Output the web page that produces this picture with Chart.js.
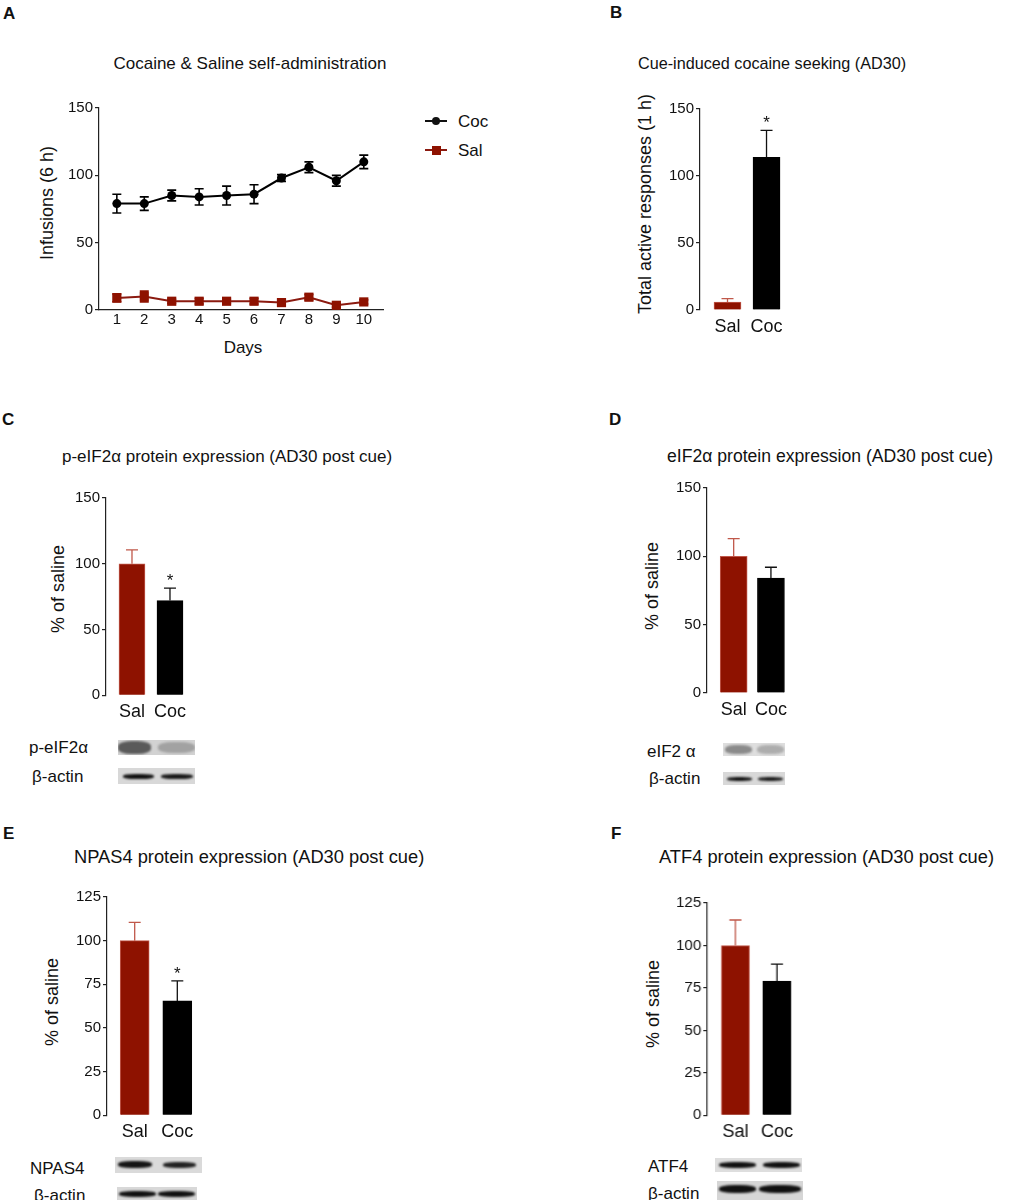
<!DOCTYPE html>
<html lang="en">
<head>
<meta charset="UTF-8">
<title>Cocaine self-administration and protein expression</title>
<script src="https://cdn.jsdelivr.net/npm/chart.js"></script>
<style>
  body { margin: 0; background: #fff; }
  #fig { position: relative; width: 1009px; height: 1200px; overflow: hidden;
         font-family: "Liberation Sans", Arial, sans-serif; color: #111; }
  .t { position: absolute; line-height: 1; white-space: nowrap; transform: translateY(-50%); }
  .tc { transform: translate(-50%, -50%); }
  .yt { transform: translate(-50%, -50%) rotate(-90deg); font-size: 18px; }
  .letter { font-weight: bold; font-size: 17px; }
  .ttl { font-size: 17px; }
  .bl { font-size: 17px; }
  .panel { position: absolute; }
  .blot { position: absolute; background: #dcdcdc; overflow: hidden; }
  .band { position: absolute; filter: blur(1px); border-radius: 40%; }
  .mark { position: absolute; }
</style>
</head>
<body>
<div id="fig">
  <!-- A -->
  <div class="t letter" style="left:3px;top:13px">A</div>
  <div class="t tc ttl" style="left:250px;top:63px">Cocaine &amp; Saline self-administration</div>
  <div class="t yt" style="left:47px;top:203px">Infusions (6 h)</div>
  <div class="t tc" style="left:243px;top:347px;font-size:17px">Days</div>
  <div class="panel" id="boxA"><canvas id="chartA"></canvas></div>
  <div class="mark" style="left:425px;top:120px;width:22px;height:2px;background:#111"></div>
  <div class="mark" style="left:432px;top:117px;width:8px;height:8px;border-radius:50%;background:#111"></div>
  <div class="t" style="left:458px;top:121px;font-size:17px">Coc</div>
  <div class="mark" style="left:425px;top:149px;width:22px;height:2px;background:#8b1a10"></div>
  <div class="mark" style="left:431.5px;top:145.5px;width:9px;height:9px;background:#8e1200"></div>
  <div class="t" style="left:458px;top:150px;font-size:17px">Sal</div>

  <!-- B -->
  <div class="t letter" style="left:610px;top:12px">B</div>
  <div class="t" style="left:638px;top:63px;font-size:16.2px">Cue-induced cocaine seeking (AD30)</div>
  <div class="t yt" style="left:645px;top:204px">Total active responses (1 h)</div>
  <div class="panel" id="boxB"><canvas id="chartB"></canvas></div>

  <!-- C -->
  <div class="t letter" style="left:2px;top:419px">C</div>
  <div class="t ttl" style="left:62px;top:456px">p-eIF2α protein expression (AD30 post cue)</div>
  <div class="t yt" style="left:58px;top:589px">% of saline</div>
  <div class="panel" id="boxC"><canvas id="chartC"></canvas></div>
  <div class="t bl" style="left:29px;top:747px">p-eIF2α</div>
  <div class="t bl" style="left:32px;top:776px">β-actin</div>

  <!-- D -->
  <div class="t letter" style="left:609px;top:419px">D</div>
  <div class="t ttl" style="left:667px;top:457px;font-size:17.6px">eIF2α protein expression (AD30 post cue)</div>
  <div class="t yt" style="left:652px;top:586px">% of saline</div>
  <div class="panel" id="boxD"><canvas id="chartD"></canvas></div>
  <div class="t bl" style="left:647px;top:751px">eIF2 α</div>
  <div class="t bl" style="left:649px;top:778px">β-actin</div>

  <!-- E -->
  <div class="t letter" style="left:3px;top:833px">E</div>
  <div class="t ttl" style="left:74px;top:857px;font-size:18.3px">NPAS4 protein expression (AD30 post cue)</div>
  <div class="t yt" style="left:52px;top:1002px">% of saline</div>
  <div class="panel" id="boxE"><canvas id="chartE"></canvas></div>
  <div class="t bl" style="left:30px;top:1168px">NPAS4</div>
  <div class="t bl" style="left:34px;top:1195px">β-actin</div>

  <!-- F -->
  <div class="t letter" style="left:611px;top:833px">F</div>
  <div class="t ttl" style="left:659px;top:857px;font-size:18.3px">ATF4 protein expression (AD30 post cue)</div>
  <div class="t yt" style="left:653px;top:1004px">% of saline</div>
  <div class="panel" id="boxF"><canvas id="chartF"></canvas></div>
  <div class="t bl" style="left:648px;top:1166px">ATF4</div>
  <div class="t bl" style="left:648px;top:1193px">β-actin</div>
</div>

<script>
// ---- data ----
const days = [1, 2, 3, 4, 5, 6, 7, 8, 9, 10];
const cocInfusions    = [79, 79, 85, 84, 85, 86, 98, 106, 96, 110];
const cocInfusionsErr = [7, 5, 4, 6, 7, 7, 2.5, 4, 4, 5];
const salInfusions    = [9, 10, 6.5, 6.5, 6.5, 6.5, 5.5, 9.5, 3.5, 6];
const salInfusionsErr = [3, 4, 1.5, 2, 1.5, 2, 1.5, 2, 1.5, 1.5];

const groups = ['Sal', 'Coc'];
const seekingMean = [6, 114];
const seekingErr  = [2.5, 20];
const seekingSig  = [false, true];

const peif2Mean = [100, 72];
const peif2Err  = [10.5, 9.5];
const peif2Sig  = [false, true];

const eif2Mean = [100, 84];
const eif2Err  = [13, 8];
const eif2Sig  = [false, false];

const npas4Mean = [100, 65.5];
const npas4Err  = [10.5, 11.5];
const npas4Sig  = [false, true];

const atf4Mean = [100, 79];
const atf4Err  = [15, 10];
const atf4Sig  = [false, false];

// ---- styles ----
const SAL_FILL = '#8e1200';
const SAL_EDGE = '#c0584a';
const SAL_ERR = '#c0584a';
const SAL_LINE = '#8b1a10';
const COC = '#000';
const AXIS = '#222';

Chart.defaults.font.family = '"Liberation Sans", Arial, sans-serif';
Chart.defaults.color = '#111';
Chart.defaults.animation = false;
Chart.defaults.events = [];
Chart.defaults.plugins.legend.display = false;
Chart.defaults.plugins.tooltip.enabled = false;

// chart-area placement: each canvas box is sized so the plot area lands where it sits in the figure
const AXIS_W = 44, AXIS_H = 34, PAD_T = 14, PAD_R = 8;
function place(boxId, a) {
  const s = document.getElementById(boxId).style;
  s.left = (a.l - AXIS_W) + 'px';
  s.top = (a.t - PAD_T) + 'px';
  s.width = (a.r + PAD_R - a.l + AXIS_W) + 'px';
  s.height = (a.b + AXIS_H - a.t + PAD_T) + 'px';
}

// error bars (and significance stars) drawn through the y scale
const errorBars = {
  id: 'errorBars',
  afterDatasetsDraw(chart) {
    const ctx = chart.ctx;
    const yScale = chart.scales.y;
    chart.data.datasets.forEach((ds, di) => {
      if (!ds.errors) return;
      chart.getDatasetMeta(di).data.forEach((el, i) => {
        const v = ds.data[i].y, e = ds.errors[i];
        const x = el.x;
        const yTop = yScale.getPixelForValue(v + e);
        const yBot = yScale.getPixelForValue(ds.errUpOnly ? v : v - e);
        const c = ds.capHalf;
        ctx.save();
        ctx.strokeStyle = Array.isArray(ds.errColor) ? ds.errColor[i] : ds.errColor;
        ctx.lineWidth = ds.errWidth || 1.3;
        ctx.beginPath();
        ctx.moveTo(x, yBot); ctx.lineTo(x, yTop);
        ctx.moveTo(x - c, yTop); ctx.lineTo(x + c, yTop);
        if (!ds.errUpOnly) { ctx.moveTo(x - c, yBot); ctx.lineTo(x + c, yBot); }
        ctx.stroke();
        if (ds.sig && ds.sig[i]) {
          ctx.fillStyle = '#111';
          ctx.font = '17px "Liberation Sans", Arial, sans-serif';
          ctx.textAlign = 'center';
          ctx.textBaseline = 'alphabetic';
          ctx.fillText('*', x, yTop - 2);
        }
        ctx.restore();
      });
    });
  }
};

function yAxis(max, step) {
  return {
    min: 0, max: max,
    ticks: { stepSize: step, font: { size: 15 }, color: '#111', padding: 2, autoSkip: false },
    grid: { display: true, drawOnChartArea: false, drawTicks: true, tickLength: 4, color: AXIS, lineWidth: 1.2 },
    border: { display: true, color: AXIS, width: 1.2 },
    afterFit: s => { s.width = AXIS_W; }
  };
}

// ---- A: line chart ----
place('boxA', { l: 99, t: 108, r: 383, b: 310 });
new Chart(document.getElementById('chartA'), {
  type: 'line',
  data: {
    datasets: [
      {
        label: 'Coc',
        data: days.map((d, i) => ({ x: d, y: cocInfusions[i] })),
        borderColor: COC, borderWidth: 2, tension: 0,
        pointStyle: 'circle', pointRadius: 4.5, pointBackgroundColor: COC, pointBorderWidth: 0,
        errors: cocInfusionsErr, errColor: COC, capHalf: 4.5, errWidth: 1.6
      },
      {
        label: 'Sal',
        data: days.map((d, i) => ({ x: d, y: salInfusions[i] })),
        borderColor: SAL_LINE, borderWidth: 2, tension: 0,
        pointStyle: 'rect', pointRadius: 6.5, pointBackgroundColor: SAL_FILL, pointBorderWidth: 0,
        errors: salInfusionsErr, errColor: SAL_FILL, capHalf: 4.5, errWidth: 1.6
      }
    ]
  },
  options: {
    responsive: true, maintainAspectRatio: false,
    layout: { padding: { top: PAD_T, right: PAD_R, left: 0, bottom: 0 } },
    clip: false,
    scales: {
      x: {
        type: 'linear', min: 0.35, max: 10.7, offset: false,
        afterBuildTicks: s => { s.ticks = days.map(d => ({ value: d })); },
        ticks: { font: { size: 15 }, color: '#111', padding: 1, autoSkip: false, maxRotation: 0 },
        grid: { display: false, drawTicks: false },
        border: { display: true, color: AXIS, width: 1.2 },
        afterFit: s => { s.height = AXIS_H; }
      },
      y: yAxis(150, 50)
    }
  },
  plugins: [errorBars]
});

// ---- bar panels ----
function barChart(canvasId, means, errs, sig, yMax, yStep, xMin, xMax, barW) {
  return new Chart(document.getElementById(canvasId), {
    type: 'bar',
    data: {
      datasets: [{
        data: groups.map((g, i) => ({ x: i + 1, y: means[i] })),
        backgroundColor: [SAL_FILL, COC],
        borderColor: [SAL_EDGE, COC],
        borderWidth: 1,
        barThickness: barW,
        errors: errs, errUpOnly: true, errColor: [SAL_ERR, '#111'], capHalf: 6, sig: sig
      }]
    },
    options: {
      responsive: true, maintainAspectRatio: false,
      layout: { padding: { top: PAD_T, right: PAD_R, left: 0, bottom: 0 } },
      scales: {
        x: {
          type: 'linear', min: xMin, max: xMax, offset: false,
          afterBuildTicks: s => { s.ticks = groups.map((g, i) => ({ value: i + 1 })); },
          ticks: { callback: v => groups[v - 1], font: { size: 18 }, color: '#111', padding: 6, autoSkip: false, maxRotation: 0 },
          grid: { display: false, drawTicks: false },
          border: { display: false },
          afterFit: s => { s.height = AXIS_H; }
        },
        y: yAxis(yMax, yStep)
      }
    },
    plugins: [errorBars]
  });
}

place('boxB', { l: 700, t: 109, r: 795, b: 310 });
barChart('chartB', seekingMean, seekingErr, seekingSig, 150, 50, 0.295, 2.73, 27);

place('boxC', { l: 106, t: 497.7, r: 200, b: 695 });
barChart('chartC', peif2Mean, peif2Err, peif2Sig, 150, 50, 0.316, 2.79, 26);

place('boxD', { l: 707, t: 488.3, r: 800, b: 693.3 });
barChart('chartD', eif2Mean, eif2Err, eif2Sig, 150, 50, 0.284, 2.78, 27);

place('boxE', { l: 107, t: 896.7, r: 205, b: 1115 });
barChart('chartE', npas4Mean, npas4Err, npas4Sig, 125, 25, 0.35, 2.65, 29);

place('boxF', { l: 707.3, t: 902.7, r: 805, b: 1115 });
barChart('chartF', atf4Mean, atf4Err, atf4Sig, 125, 25, 0.325, 2.69, 28);

// ---- western blot strips (decoration under C-F) ----
const blots = [
  { x: 118, y: 740, w: 77, h: 15, bg: '#d2d2d2', bands: [[0, 33, 1, 13, '#5a5a5a'], [40, 37, 2, 11, '#a2a2a2']] },
  { x: 118, y: 768, w: 77, h: 16, bg: '#d8d8d8', bands: [[5, 31, 6, 5, '#111'], [43, 32, 6, 5, '#1a1a1a']] },
  { x: 723, y: 743, w: 62, h: 13, bg: '#dedede', bands: [[2, 27, 2, 9, '#8a8a8a'], [34, 27, 2, 9, '#adadad']] },
  { x: 723, y: 772, w: 62, h: 13, bg: '#d8d8d8', bands: [[4, 25, 5, 4, '#111'], [35, 25, 5, 4, '#1a1a1a']] },
  { x: 115, y: 1157, w: 87, h: 16, bg: '#dadada', bands: [[3, 34, 4, 7, '#151515'], [48, 33, 5, 6, '#222']] },
  { x: 117, y: 1187, w: 80, h: 16, bg: '#d8d8d8', bands: [[2, 37, 4, 6, '#111'], [41, 37, 4, 6, '#111']] },
  { x: 715, y: 1158, w: 87, h: 14, bg: '#dedede', bands: [[4, 37, 4, 6, '#111'], [48, 37, 4, 6, '#111']] },
  { x: 717, y: 1181, w: 86, h: 19, bg: '#d6d6d6', bands: [[2, 37, 4, 8, '#111'], [42, 42, 4, 8, '#111']] }
];
const fig = document.getElementById('fig');
blots.forEach(b => {
  const box = document.createElement('div');
  box.className = 'blot';
  Object.assign(box.style, { left: b.x + 'px', top: b.y + 'px', width: b.w + 'px', height: b.h + 'px', background: b.bg });
  b.bands.forEach(([l, w, t, h, c]) => {
    const band = document.createElement('div');
    band.className = 'band';
    Object.assign(band.style, { left: l + 'px', width: w + 'px', top: t + 'px', height: h + 'px', background: c });
    box.appendChild(band);
  });
  fig.appendChild(box);
});
</script>
</body>
</html>
